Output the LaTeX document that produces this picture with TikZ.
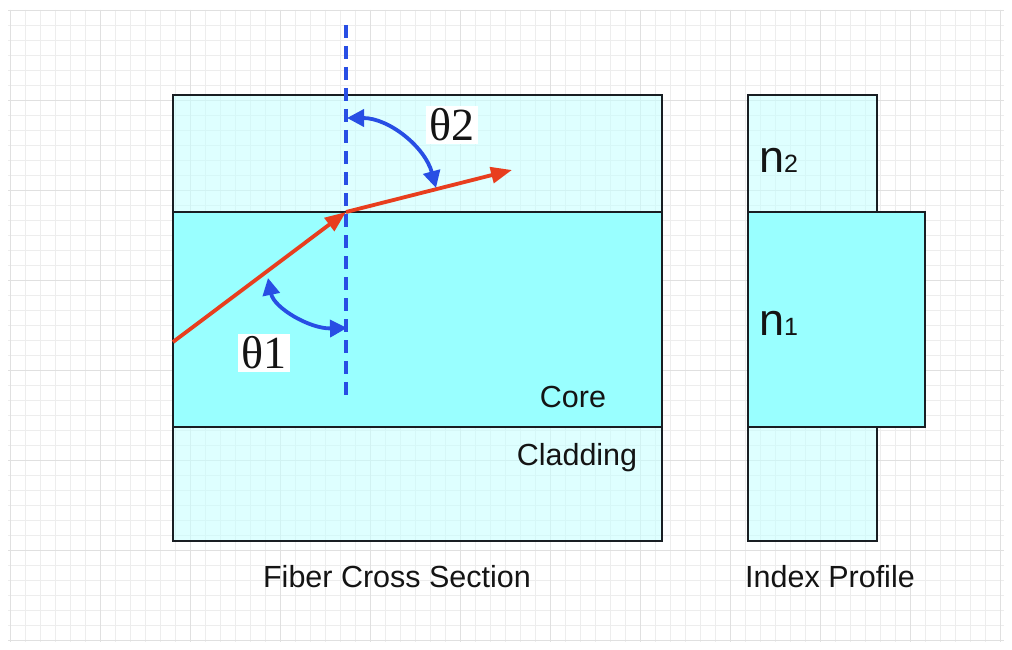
\documentclass[tikz,border=0pt]{standalone}
\usepackage{fontspec}
\setmainfont{Liberation Sans}
\newfontfamily\thetafont{Liberation Serif}
\usetikzlibrary{arrows.meta}

\definecolor{corecol}{RGB}{153,255,255}
\definecolor{cladcol}{RGB}{200,255,255}
\definecolor{raycol}{RGB}{232,62,30}
\definecolor{angcol}{RGB}{40,78,228}
\definecolor{edgecol}{RGB}{25,30,35}
\definecolor{txtcol}{RGB}{20,20,20}

\begin{document}
\begin{tikzpicture}[x=1pt,y=-1pt,
  region/.style={draw=edgecol, line width=2.5pt, inner sep=0pt, outer sep=0pt, anchor=north west},
  cladbox/.style={region, fill=cladcol, fill opacity=0.6, draw opacity=1},
  corebox/.style={region, fill=corecol},
  rayline/.style={draw=raycol, line width=3.8pt, -{Triangle[length=21pt,width=16pt]}},
  angarrow/.style={draw=angcol, line width=3.8pt, {Triangle[length=17pt,width=17pt]}-{Triangle[length=17pt,width=17pt]}},
  normalline/.style={draw=angcol, line width=3.8pt, dash pattern=on 13pt off 8pt},
  anglabel/.style={fill=white, inner sep=3pt, text=txtcol, font=\thetafont\fontsize{46}{46}\selectfont},
  lbl/.style={text=txtcol, inner sep=0pt, font=\fontsize{30.5}{30.5}\selectfont},
  idxlbl/.style={text=txtcol, inner sep=0pt, anchor=base west, font=\fontsize{45}{45}\selectfont}
]
\useasboundingbox (0,0) rectangle (1012,650);
\fill[white] (0,0) rectangle (1012,650);
% background grid
\foreach \gx in {10,25,...,1000} \draw[gray!14, line width=0.8pt] (\gx,10) -- (\gx,642);
\foreach \gy in {10,25,...,640} \draw[gray!14, line width=0.8pt] (8,\gy) -- (1004,\gy);
\foreach \gx in {10,100,...,1000} \draw[gray!24, line width=0.8pt] (\gx,10) -- (\gx,642);
\foreach \gy in {10,100,...,640} \draw[gray!24, line width=0.8pt] (8,\gy) -- (1004,\gy);

% fiber cross section
\node[cladbox, minimum width=489pt, minimum height=117pt] (cladtop) at (173,95) {};
\node[cladbox, minimum width=489pt, minimum height=114pt] (cladbot) at (173,427) {};
\node[corebox, minimum width=489pt, minimum height=215pt] (core) at (173,212) {};

% index profile
\node[cladbox, minimum width=129pt, minimum height=117pt] (idxtop) at (748,95) {};
\node[cladbox, minimum width=129pt, minimum height=114pt] (idxbot) at (748,427) {};
\node[corebox, minimum width=177pt, minimum height=215pt] (idxcore) at (748,212) {};

% normal line
\coordinate (ntop) at (346,25);
\coordinate (nbot) at (346,402);
\draw[normalline] (ntop) -- (nbot);

% ray
\coordinate (rayin) at (173,342);
\coordinate (hit) at (346,212);
\coordinate (rayout) at (512,170);
\draw[rayline] (rayin) -- (hit);
\draw[rayline] (hit) -- (rayout);

% angle arcs
\coordinate (a2s) at (347,118);
\coordinate (a2e) at (436,188);
\draw[angarrow] (a2s) .. controls (389,118) and (425,147) .. (a2e);
\coordinate (a1s) at (268,278);
\coordinate (a1e) at (347,328);
\draw[angarrow] (a1s) .. controls (274,308) and (310,329) .. (a1e);

% labels
\node[anglabel] (th2) at (452,125) {θ2};
\node[anglabel] (th1) at (264,353) {θ1};
\node[lbl] (corelbl) at (573,397) {Core};
\node[lbl] (cladlbl) at (577,458) {Cladding};
\node[lbl] (fibercap) at (397,577) {Fiber Cross Section};
\node[lbl] (indexcap) at (830,577) {Index Profile};
\node[idxlbl] (n2) at (759,172) {n{\fontsize{25}{25}\selectfont 2}};
\node[idxlbl] (n1) at (759,335) {n{\fontsize{25}{25}\selectfont 1}};
\end{tikzpicture}
\end{document}
